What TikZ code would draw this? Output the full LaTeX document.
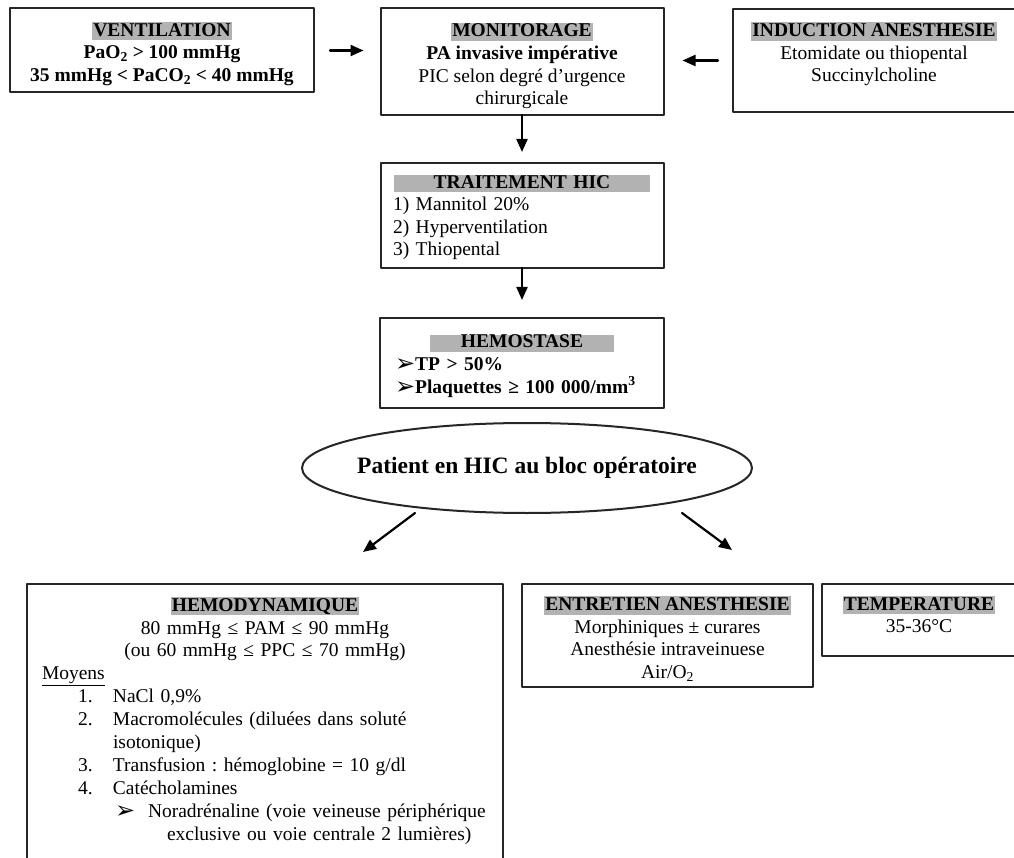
\documentclass[tikz,border=0pt]{standalone}
\usepackage{fontspec}
\setmainfont{Liberation Serif}
\newfontfamily\dingfont{DejaVu Sans}
\usetikzlibrary{shapes.geometric,arrows.meta}
\definecolor{hlgray}{gray}{0.70}
\frenchspacing
% grey band behind a heading, tight or of a given width
\newcommand{\hd}[1]{{\setlength{\fboxsep}{1.2pt}\colorbox{hlgray}{\rule[-3pt]{0pt}{13.8pt}\textbf{#1}}}}
\newcommand{\hdw}[2]{{\setlength{\fboxsep}{0pt}\colorbox{hlgray}{\makebox[#1]{\rule[-4.2pt]{0pt}{15pt}\textbf{#2}}}}}
\newcommand{\pointe}{{\dingfont\fontsize{24}{20}\selectfont\raisebox{-1pt}{➢}}}
\begin{document}
\begin{tikzpicture}
% flowchart, coordinates in pixels of the page, y going down
\providecommand{\boxLineColor}{black!85}
\providecommand{\boxLineWidth}{2pt}
\providecommand{\arrLineWidth}{2.2pt}
\begin{scope}[x=1pt, y=-1pt, line cap=round, line join=round,
  every node/.style={font=\fontsize{19.5}{22.6}\selectfont},
  box/.style={draw=\boxLineColor, line width=\boxLineWidth, align=center, inner sep=0pt, outer sep=0pt},
  arr/.style={line width=\arrLineWidth, -{Triangle[length=13pt,width=11pt]}}]
  % Page
  \fill[white] (0,0) rectangle (1014,858);
  \useasboundingbox (0,0) rectangle (1014,858);
  % Top row
  \node[box, minimum width=304, minimum height=84] (vent) at (162,50.5)
    {\rule{0pt}{21pt}\hd{VENTILATION}\\\textbf{PaO\textsubscript{2} > 100 mmHg}\\\textbf{35 mmHg < PaCO\textsubscript{2} < 40 mmHg}};
  \node[box, minimum width=283, minimum height=107] (moni) at (522,61.5)
    {\rule{0pt}{23pt}\hd{MONITORAGE}\\\textbf{PA invasive impérative}\\PIC selon degré d’urgence\\chirurgicale};
  \node[box, minimum width=282, minimum height=103] (ind) at (874,60.5)
    {\hd{INDUCTION ANESTHESIE}\\Etomidate ou thiopental\\Succinylcholine\rule[-17pt]{0pt}{0pt}};
  % Middle column
  \node[box, minimum width=283, minimum height=105, text width=258, inner xsep=12.5] (trait) at (522,215.5)
    {\centering\rule{0pt}{17pt}\hdw{256pt}{TRAITEMENT HIC}\par\raggedright 1) Mannitol 20\%\\2) Hyperventilation\\3) Thiopental\par};
  \node[box, minimum width=284, minimum height=90, text width=258, inner xsep=13] (hemost) at (522,363)
    {\centering\rule{0pt}{19pt}\hdw{184pt}{HEMOSTASE}\par\raggedright\bfseries\hspace*{2pt}\pointe TP > 50\%\\\hspace*{2pt}\pointe Plaquettes ≥ 100 000/mm\textsuperscript{3}\par};
  \node[ellipse, draw=\boxLineColor, line width=\boxLineWidth, minimum width=450, minimum height=90,
    inner xsep=-12pt, inner ysep=0pt, font=\fontsize{23.5}{26}\selectfont\bfseries] (pat) at (527,468)
    {Patient en HIC au bloc opératoire};
  % Bottom row
  \node[box, anchor=north west, text width=446, inner xsep=15, inner ysep=13,
    font=\fontsize{19.5}{22.9}\selectfont] (hemo) at (27,584)
    {\centering\hd{HEMODYNAMIQUE}\\80 mmHg ≤ PAM ≤ 90 mmHg\\(ou 60 mmHg ≤ PPC ≤ 70 mmHg)\par
     \raggedright\underline{Moyens}\\
     \hspace*{36pt}\makebox[35pt][l]{1.}NaCl 0,9\%\\
     \hspace*{36pt}\makebox[35pt][l]{2.}Macromolécules (diluées dans soluté\\
     \hspace*{71pt}isotonique)\\
     \hspace*{36pt}\makebox[35pt][l]{3.}Transfusion : hémoglobine = 10 g/dl\\
     \hspace*{36pt}\makebox[35pt][l]{4.}Catécholamines\\
     \hspace*{73pt}\makebox[33pt][l]{\pointe}Noradrénaline (voie veineuse périphérique\\
     \hspace*{125pt}exclusive ou voie centrale 2 lumières)\rule[-25pt]{0pt}{0pt}\par};
  \node[box, minimum width=291, minimum height=103] (entr) at (667.5,635.5)
    {\rule{0pt}{21pt}\hd{ENTRETIEN ANESTHESIE}\\Morphiniques ± curares\\Anesthésie intraveinuese\\Air/O\textsubscript{2}};
  \node[box, minimum width=194, minimum height=72] (temp) at (919,620)
    {\hd{TEMPERATURE}\\35-36°C\rule[-11pt]{0pt}{0pt}};
  % Arrows
  \draw[arr, shorten <=16pt, shorten >=17pt] (vent.east) -- (vent.east -| moni.west);
  \draw[arr, shorten <=15pt, shorten >=19pt] (ind.west) -- (ind.west -| moni.east);
  \draw[arr, shorten >=11pt] (moni) -- (trait);
  \draw[arr, shorten >=18pt] (trait) -- (hemost);
  \draw[arr] ([shift={(-112,45)}]pat.center) -- ([shift={(-164,84)}]pat.center);
  \draw[arr] ([shift={(155,45)}]pat.center) -- ([shift={(205,82)}]pat.center);
\end{scope}
\end{tikzpicture}
\end{document}
